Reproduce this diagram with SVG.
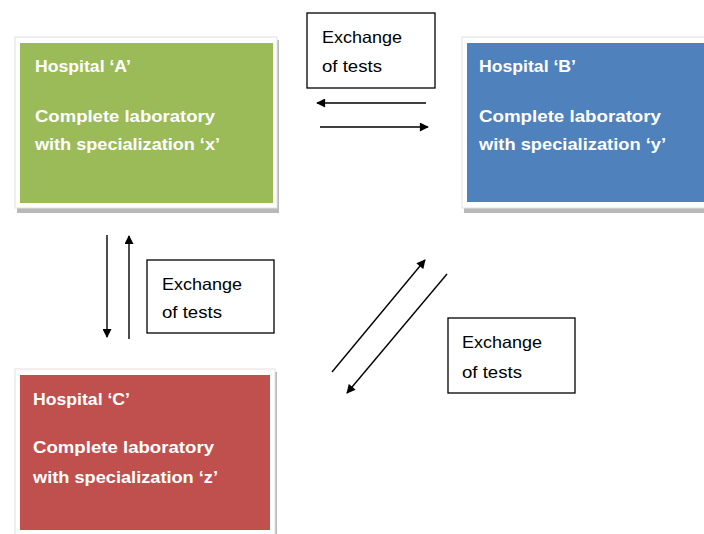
<svg xmlns="http://www.w3.org/2000/svg" width="704" height="534" viewBox="0 0 704 534">
<defs>
<marker id="ah" viewBox="0 0 10 10" refX="9" refY="5" markerWidth="10" markerHeight="9" markerUnits="userSpaceOnUse" orient="auto">
<path d="M0,0 L10,5 L0,10 z" fill="#000"/>
</marker>
<style>
.shadow{fill:#b8b8b8}
.frame{fill:#fff;stroke:#e2e2e2;stroke-width:1}
.lbl{font-family:"Liberation Sans",Arial,sans-serif;font-weight:bold;font-size:16.5px;fill:#fff}
.ex{font-family:"Liberation Sans",Arial,sans-serif;font-size:16.5px;fill:#000}
.exbox{fill:#fff;stroke:#000;stroke-width:1.3}
.conn{stroke:#000;stroke-width:1.4;fill:none;marker-end:url(#ah)}
</style>
</defs>
<rect width="704" height="534" fill="#fff"/>
<g id="hospitalA">
<rect class="shadow" x="17" y="40" width="262" height="173"/>
<rect class="frame" x="15" y="37" width="262" height="171"/>
<rect x="20" y="43" width="253" height="160" fill="#9BBB59"/>
<text class="lbl" x="35" y="72" textLength="96" lengthAdjust="spacingAndGlyphs">Hospital ‘A’</text>
<text class="lbl" x="35" y="122" textLength="180" lengthAdjust="spacingAndGlyphs">Complete laboratory</text>
<text class="lbl" x="35" y="150" textLength="185" lengthAdjust="spacingAndGlyphs">with specialization  ‘x’</text>
</g>
<g id="hospitalB">
<rect class="shadow" x="464" y="40" width="245" height="173"/>
<rect class="frame" x="462" y="37" width="250" height="171"/>
<rect x="467" y="43" width="240" height="159" fill="#4F81BD"/>
<text class="lbl" x="479" y="72" textLength="97" lengthAdjust="spacingAndGlyphs">Hospital ‘B’</text>
<text class="lbl" x="479" y="122" textLength="182" lengthAdjust="spacingAndGlyphs">Complete laboratory</text>
<text class="lbl" x="479" y="150" textLength="187" lengthAdjust="spacingAndGlyphs">with specialization  ‘y’</text>
</g>
<g id="hospitalC">
<rect class="shadow" x="17" y="372" width="260" height="165"/>
<rect class="frame" x="15" y="369" width="260" height="168"/>
<rect x="20" y="375" width="250" height="155" fill="#C0504D"/>
<text class="lbl" x="33" y="405" textLength="97" lengthAdjust="spacingAndGlyphs">Hospital ‘C’</text>
<text class="lbl" x="33" y="453" textLength="181" lengthAdjust="spacingAndGlyphs">Complete laboratory</text>
<text class="lbl" x="33" y="483" textLength="185" lengthAdjust="spacingAndGlyphs">with specialization  ‘z’</text>
</g>
<g id="label1">
<rect class="exbox" x="307" y="13" width="128" height="75"/>
<text class="ex" x="322" y="43" textLength="80" lengthAdjust="spacingAndGlyphs">Exchange</text>
<text class="ex" x="322" y="72" textLength="60" lengthAdjust="spacingAndGlyphs">of tests</text>
</g>
<g id="label2">
<rect class="exbox" x="147" y="260" width="127" height="73"/>
<text class="ex" x="162" y="290" textLength="80" lengthAdjust="spacingAndGlyphs">Exchange</text>
<text class="ex" x="162" y="318" textLength="60" lengthAdjust="spacingAndGlyphs">of tests</text>
</g>
<g id="label3">
<rect class="exbox" x="448" y="318" width="127" height="75"/>
<text class="ex" x="462" y="348" textLength="80" lengthAdjust="spacingAndGlyphs">Exchange</text>
<text class="ex" x="462" y="378" textLength="60" lengthAdjust="spacingAndGlyphs">of tests</text>
</g>
<g id="connectors">
<line class="conn" x1="426" y1="103" x2="317" y2="103"/>
<line class="conn" x1="320" y1="127" x2="428" y2="127"/>
<line class="conn" x1="107" y1="235" x2="107" y2="337"/>
<line class="conn" x1="129" y1="339" x2="129" y2="236"/>
<line class="conn" x1="332" y1="372" x2="425" y2="260"/>
<line class="conn" x1="447" y1="274" x2="347" y2="393"/>
</g>
</svg>
